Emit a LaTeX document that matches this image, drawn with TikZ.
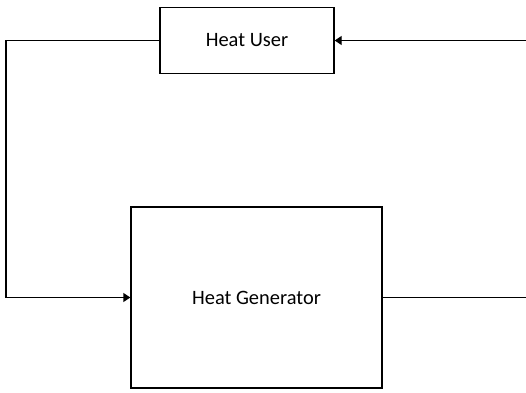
\documentclass[tikz,border=0pt]{standalone}
\usepackage{fontspec}
\setmainfont{Carlito}
\usetikzlibrary{arrows.meta}
\begin{document}
\begin{tikzpicture}[x=1bp,y=-1bp,
  block/.style={draw, line width=1.4bp, fill=white, inner sep=0pt,
    font=\fontsize{20.5}{23}\selectfont},
  flow/.style={draw, line width=1.4bp},
  tip/.style={-{Triangle[length=7bp,width=9bp]}}]
  \useasboundingbox (0,0) rectangle (526,392);
  % the two units of the heat loop
  \node[block, minimum width=174bp, minimum height=66bp] (user) at (247,40.5) {Heat User};
  \node[block, minimum width=251bp, minimum height=181bp] (gen) at (256.5,297.5) {Heat Generator};
  % open ends of the return and supply lines
  \coordinate (retin) at (526,40.5);
  \coordinate (supout) at (526,297.5);
  \coordinate (leftbend) at (6,40.5);
  % connectors
  \draw[flow, tip] (user.west) -- (leftbend) |- (gen.west);
  \draw[flow] (gen.east) -- (supout);
  \draw[flow, tip] (retin) -- (user.east);
\end{tikzpicture}
\end{document}
